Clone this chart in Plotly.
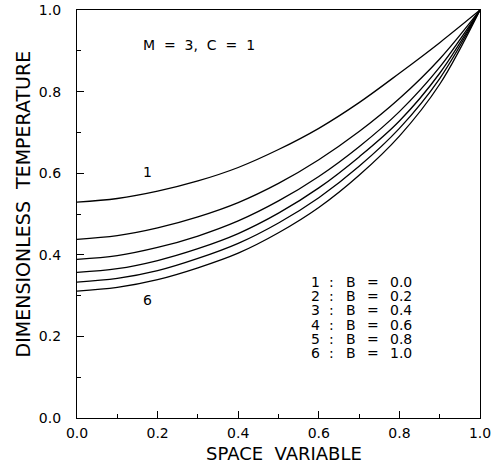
import plotly.graph_objects as go

# Data
x_vals = [0.0, 0.1, 0.2, 0.3, 0.4, 0.5, 0.6, 0.7, 0.8, 0.9, 1.0]
curve_1 = [0.529, 0.538, 0.556, 0.581, 0.614, 0.658, 0.710, 0.773, 0.845, 0.920, 1.0]
curve_2 = [0.438, 0.447, 0.466, 0.493, 0.528, 0.575, 0.633, 0.702, 0.783, 0.880, 1.0]
curve_3 = [0.389, 0.398, 0.418, 0.446, 0.483, 0.532, 0.592, 0.665, 0.751, 0.860, 1.0]
curve_4 = [0.357, 0.366, 0.386, 0.415, 0.452, 0.502, 0.564, 0.640, 0.728, 0.845, 1.0]
curve_5 = [0.333, 0.342, 0.361, 0.391, 0.428, 0.478, 0.540, 0.617, 0.710, 0.832, 1.0]
curve_6 = [0.311, 0.320, 0.339, 0.368, 0.404, 0.454, 0.516, 0.595, 0.691, 0.818, 1.0]
curves = [curve_1, curve_2, curve_3, curve_4, curve_5, curve_6]
curve_ids = ["1", "2", "3", "4", "5", "6"]
b_values = [0.0, 0.2, 0.4, 0.6, 0.8, 1.0]
tick_vals = [0.0, 0.2, 0.4, 0.6, 0.8, 1.0]
tick_text = ["0.0", "0.2", "0.4", "0.6", "0.8", "1.0"]

FONT = "DejaVu Sans"
NB = "\u00a0"

fig = go.Figure()
for cid, ys in zip(curve_ids, curves):
    fig.add_trace(go.Scatter(x=x_vals, y=ys, mode="lines", name=cid,
                             line=dict(color="black", width=1.3, shape="spline", smoothing=1.0),
                             showlegend=False, hoverinfo="skip"))

annotations = []
# parameter text
annotations.append(dict(x=0.303, y=0.914, xref="x", yref="y",
                        text=f"M{NB*2}={NB*2}3,{NB*2}C{NB*2}={NB*2}1",
                        showarrow=False, font=dict(family=FONT, size=14, color="black")))
# curve labels
annotations.append(dict(x=0.176, y=0.603, xref="x", yref="y", text=curve_ids[0],
                        showarrow=False, font=dict(family=FONT, size=14, color="black")))
annotations.append(dict(x=0.176, y=0.289, xref="x", yref="y", text=curve_ids[-1],
                        showarrow=False, font=dict(family=FONT, size=14, color="black")))
# legend block, column by column
col_px = [315, 331.5, 351, 372.7, 401.3]
row0_px, row_step = 281.7, 14.3
for i, (cid, b) in enumerate(zip(curve_ids, b_values)):
    yv = (418 - (row0_px + i * row_step)) / 408
    parts = [cid, ":", "B", "=", f"{b:.1f}"]
    for cx, t in zip(col_px, parts):
        annotations.append(dict(x=(cx - 77) / 403, y=yv, xref="x", yref="y", text=t,
                                showarrow=False,
                                font=dict(family=FONT, size=14, color="black")))
# axis titles
annotations.append(dict(x=0.514, y=-0.087, xref="paper", yref="paper", yanchor="middle",
                        text=f"SPACE{NB*2}VARIABLE", showarrow=False,
                        font=dict(family=FONT, size=18, color="black")))
annotations.append(dict(x=-0.133, y=0.5245, xref="paper", yref="paper", xanchor="center",
                        yanchor="middle", textangle=-90,
                        text=f"DIMENSIONLESS{NB*2}TEMPERATURE", showarrow=False,
                        font=dict(family=FONT, size=19, color="black")))

axis_common = dict(range=[0, 1], tickvals=tick_vals, ticktext=tick_text,
                   ticks="inside", ticklen=7, tickwidth=1, tickcolor="black",
                   showline=True, linecolor="black", linewidth=1.3, mirror=True,
                   showgrid=False, zeroline=False, automargin=False,
                   minor=dict(dtick=0.1, ticks="inside", ticklen=4, tickcolor="black", tickwidth=1),
                   tickfont=dict(family=FONT, size=14, color="black"))

fig.update_layout(
    width=496, height=464,
    margin=dict(l=77, r=16, t=10, b=46, autoexpand=False),
    paper_bgcolor="white", plot_bgcolor="white",
    xaxis=dict(**axis_common, ticklabelstandoff=2),
    yaxis=dict(**axis_common, ticklabelstandoff=12),
    annotations=annotations,
)

fig.write_html("out.html", config={"displayModeBar": False},
               post_script="document.body.style.margin='0px';")
